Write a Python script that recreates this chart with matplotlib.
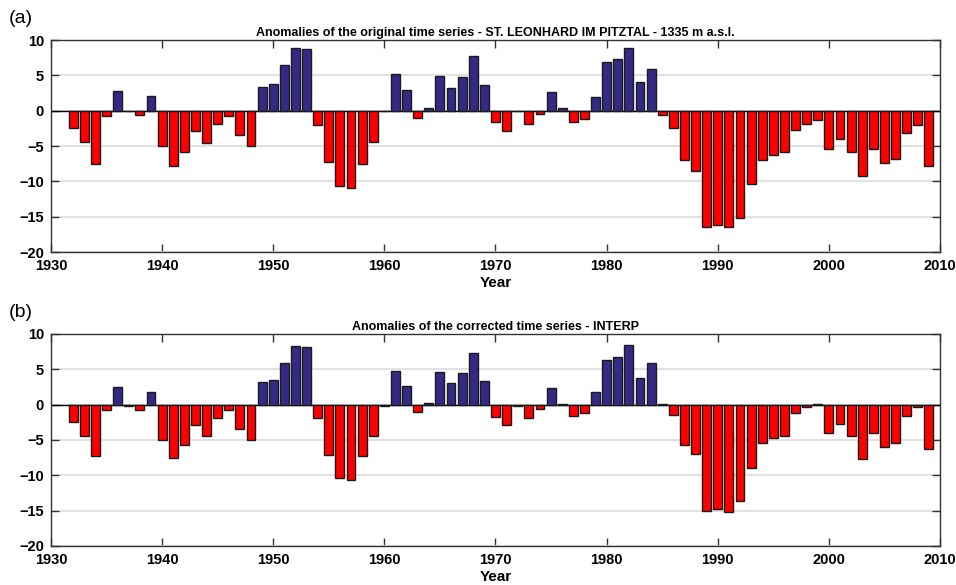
import numpy as np
import matplotlib
matplotlib.use('Agg')
import matplotlib.pyplot as plt

plt.rcParams['font.family'] = ['Liberation Sans', 'DejaVu Sans']

# Years and anomaly values
years = list(range(1932, 2010))

original = [-2.45, -4.4, -7.5, -0.7, 2.75, 0.0, -0.65, 2.05, -5.05, -7.8,
            -5.8, -2.85, -4.5, -1.85, -0.8, -3.45, -5.05, 3.4, 3.75, 6.45,
            8.9, 8.7, -1.95, -7.25, -10.7, -10.95, -7.5, -4.45, 0.0, 5.25,
            2.9, -1.05, 0.45, 4.95, 3.25, 4.85, 7.8, 3.6, -1.65, -2.8,
            0.0, -1.9, -0.45, 2.65, 0.35, -1.55, -1.15, 2.0, 6.85, 7.3,
            8.95, 4.1, 5.9, -0.65, -2.4, -6.95, -8.45, -16.45, -16.15, -16.5,
            -15.1, -10.4, -6.9, -6.2, -5.8, -2.7, -1.85, -1.35, -5.4, -4.05,
            -5.8, -9.2, -5.4, -7.45, -6.85, -3.1, -1.95, -7.85]

corrected = [-2.5, -4.4, -7.25, -0.75, 2.45, -0.25, -0.7, 1.85, -4.95, -7.55,
             -5.65, -2.85, -4.45, -1.85, -0.8, -3.45, -5.0, 3.15, 3.45, 5.95,
             8.35, 8.15, -1.95, -7.1, -10.4, -10.6, -7.25, -4.4, -0.25, 4.75,
             2.6, -1.1, 0.3, 4.55, 3.0, 4.5, 7.25, 3.35, -1.7, -2.85,
             -0.25, -1.9, -0.55, 2.35, 0.15, -1.6, -1.25, 1.8, 6.3, 6.75,
             8.4, 3.8, 5.9, 0.05, -1.4, -5.65, -7.0, -15.0, -14.7, -15.15,
             -13.65, -8.9, -5.4, -4.75, -4.4, -1.2, -0.4, 0.1, -3.95, -2.7,
             -4.4, -7.75, -3.95, -5.95, -5.4, -1.65, -0.4, -6.3]

titles = ['Anomalies of the original time series - ST. LEONHARD IM PITZTAL - 1335 m a.s.l.',
          'Anomalies of the corrected time series - INTERP']
panel_labels = ['(a)', '(b)']

BLUE = '#342a86'
RED = '#ff0000'

fig = plt.figure(figsize=(9.56, 5.85), dpi=100)
ax_a = fig.add_axes([0.0533, 0.569, 0.930, 0.3624])
ax_b = fig.add_axes([0.0533, 0.0667, 0.930, 0.3624])

for ax, vals, title, lab in zip([ax_a, ax_b], [original, corrected], titles, panel_labels):
    vals = np.array(vals)
    colors = [BLUE if v > 0 else RED for v in vals]
    ax.set_axisbelow(True)
    ax.yaxis.grid(True, color='#dcdcdc', linewidth=1.2)
    ax.bar(years, vals, width=0.8, color=colors, edgecolor='#1a1a1a', linewidth=1.0, zorder=3)
    ax.axhline(0, color='black', linewidth=1.0, zorder=2)
    ax.set_xlim(1930, 2010)
    ax.set_ylim(-20, 10)
    ax.set_xticks(range(1930, 2011, 10))
    ax.set_yticks(range(-20, 11, 5))
    ax.tick_params(direction='in', top=True, right=True, length=6, width=1.0,
                   labelsize=10.5, color='#333333')
    ax.tick_params(axis='x', pad=5)
    ax.tick_params(axis='y', pad=5)
    for t in ax.get_xticklabels() + ax.get_yticklabels():
        t.set_fontweight('bold')
    for s in ax.spines.values():
        s.set_color('#333333')
        s.set_linewidth(1.0)
    ax.set_title(title, fontsize=9, fontweight='bold', pad=3)
    ax.set_xlabel('Year', fontsize=11, fontweight='bold', labelpad=2)
    ax.text(-0.047, 1.06, lab, transform=ax.transAxes, fontsize=14, ha='left', va='bottom')

fig.savefig('out.png', dpi=100)
